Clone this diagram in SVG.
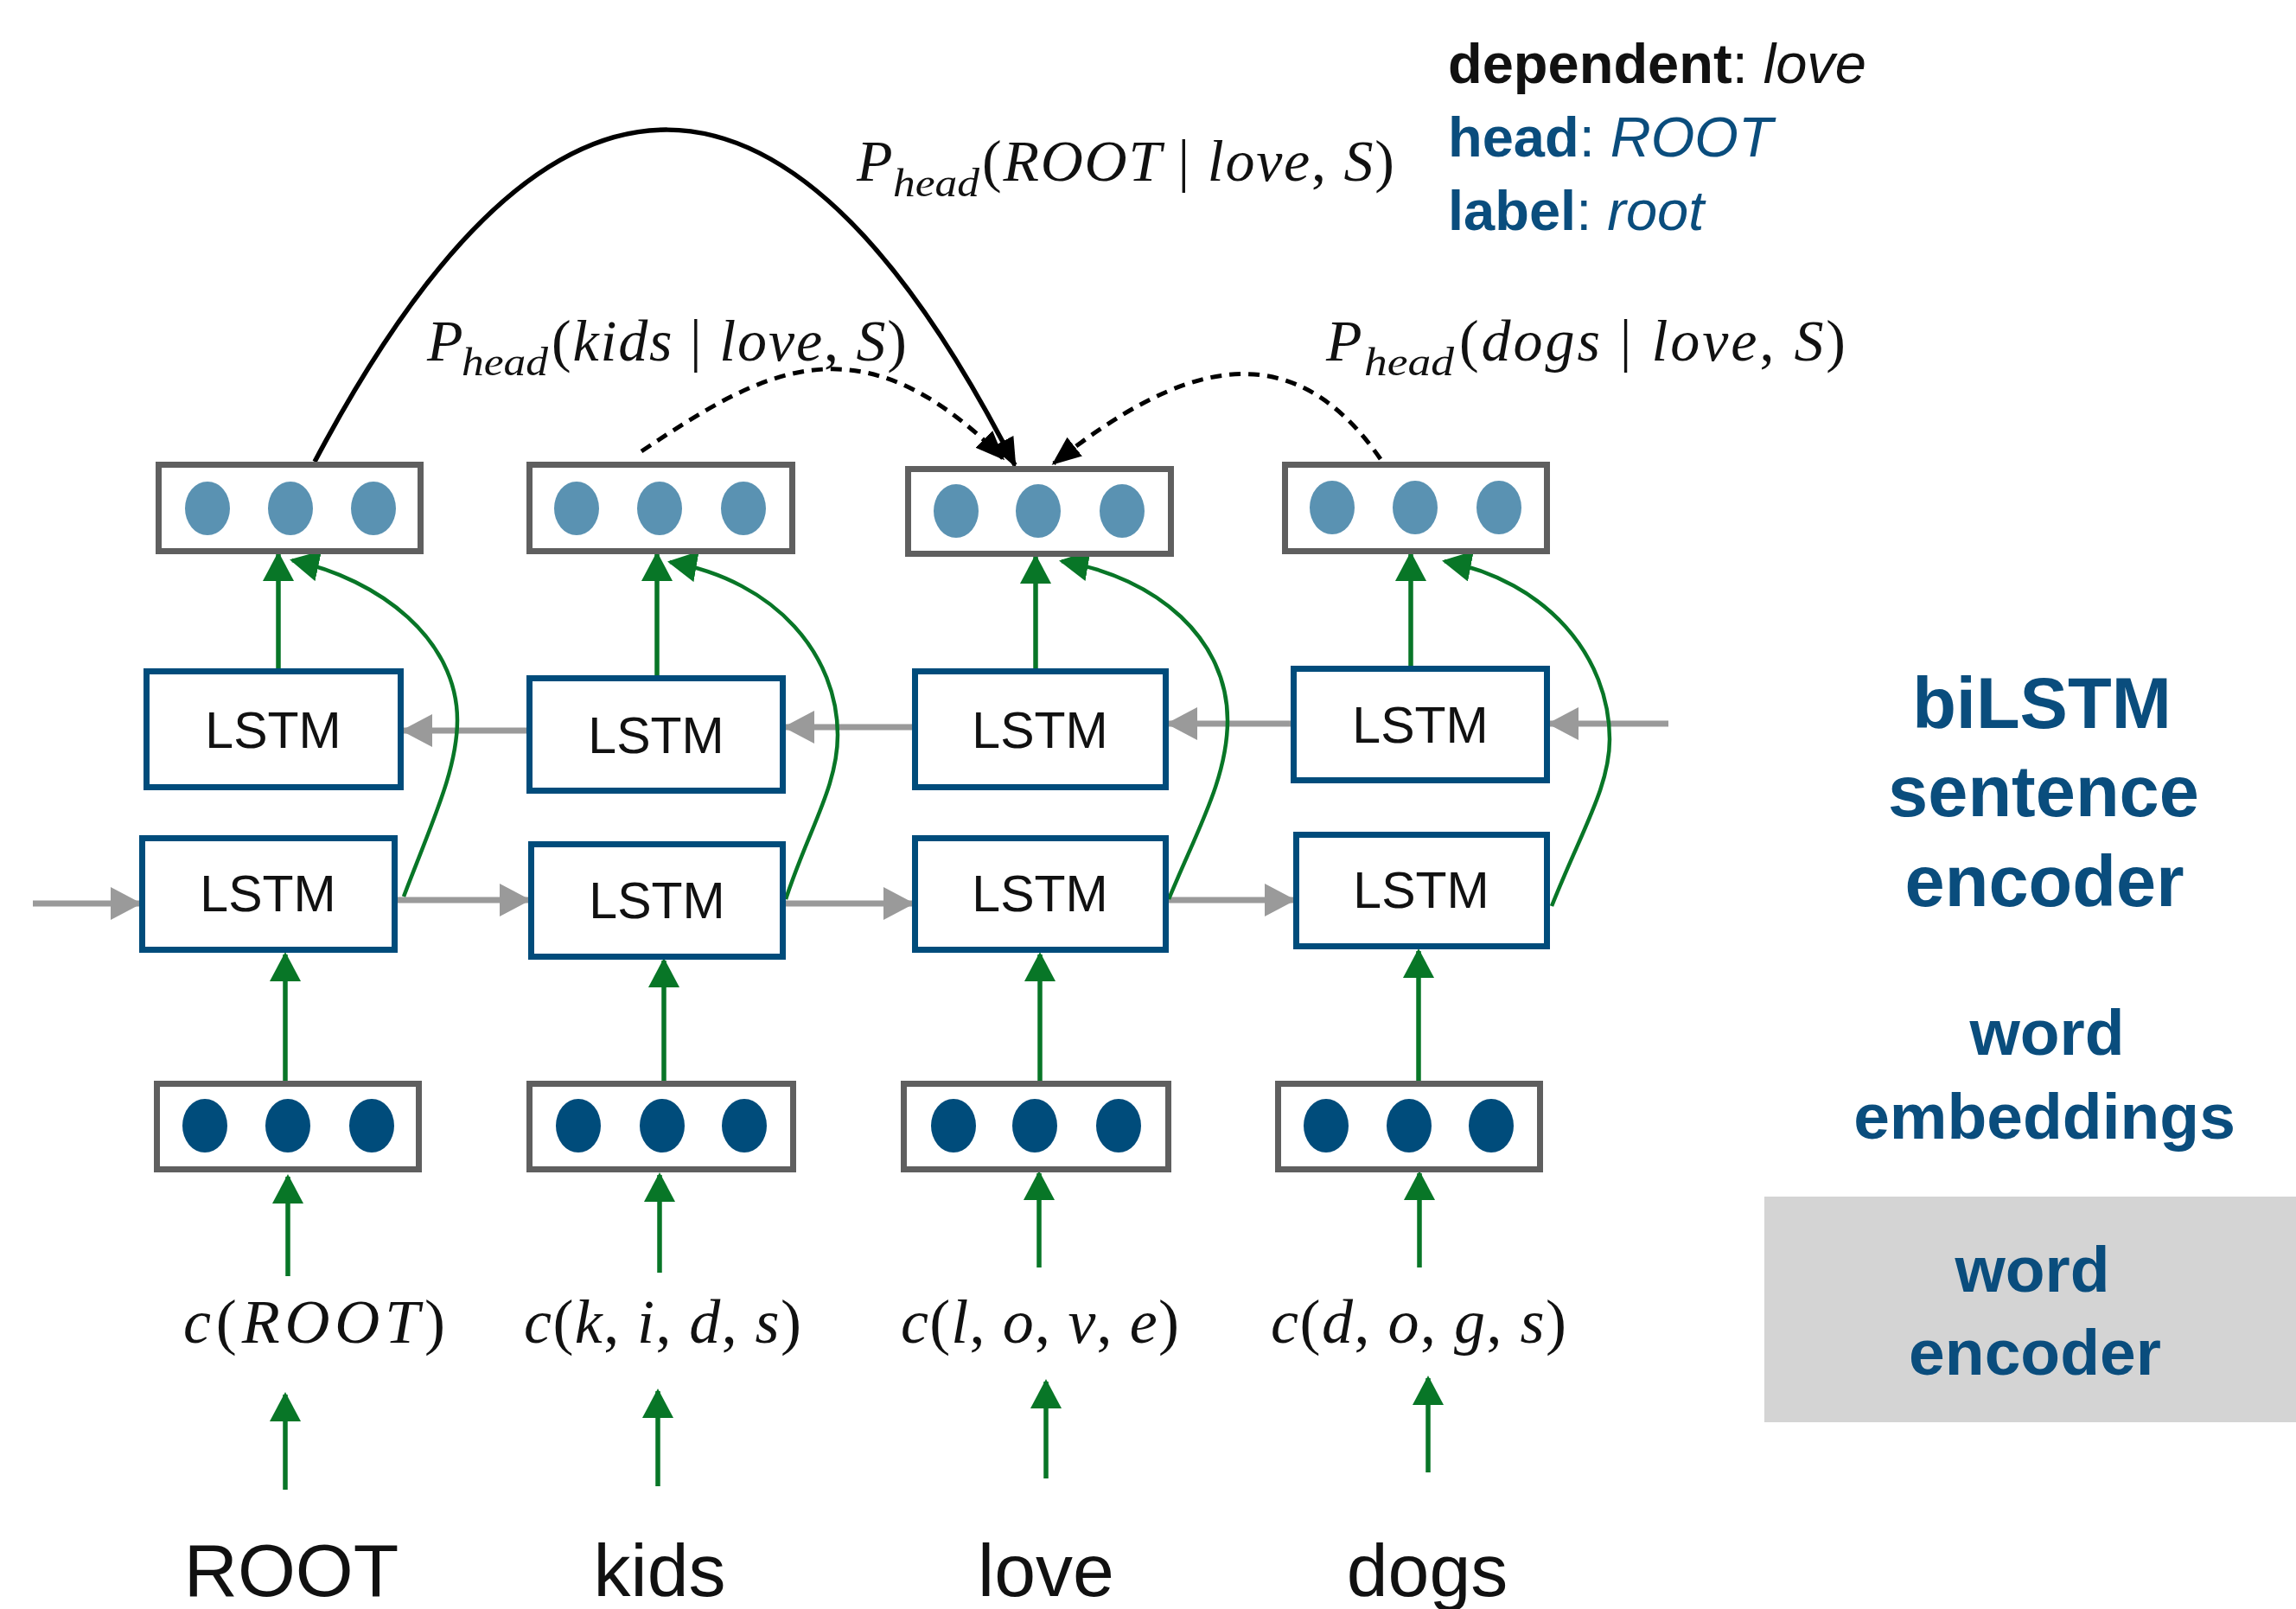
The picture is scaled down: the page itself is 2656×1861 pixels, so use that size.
<svg xmlns="http://www.w3.org/2000/svg" width="2656" height="1861" viewBox="0 0 2656 1861">
  <style>
    .vec { fill: #ffffff; stroke: #5f5f5f; stroke-width: 7; }
    .cell { fill: #ffffff; stroke: #004c7b; stroke-width: 7; }
    .dot-hi { fill: #5a92b2; }
    .dot-lo { fill: #004c7b; }
    .lstm { font-family: "Liberation Sans", Arial, Helvetica, sans-serif; font-size: 59px; text-anchor: middle; fill: #111111; }
    .math { font-family: "Liberation Serif", "Times New Roman", serif; font-style: italic; font-size: 68px; fill: #111111; }
    .sub { font-size: 46px; }
    .cf { font-size: 72px; }
    .up { font-style: normal; }
    .word { font-family: "Liberation Sans", Arial, Helvetica, sans-serif; font-size: 86px; text-anchor: middle; fill: #111111; }
    .side { font-family: "Liberation Sans", Arial, Helvetica, sans-serif; font-weight: bold; text-anchor: middle; fill: #0a4d7d; }
    .info { font-family: "Liberation Sans", Arial, Helvetica, sans-serif; font-size: 65px; }
    .b { font-weight: bold; }
    .it { font-style: italic; }
    .green { fill: none; stroke: #087627; stroke-width: 5.5; marker-end: url(#ah-green); }
    .green-c { fill: none; stroke: #087627; stroke-width: 4.5; marker-end: url(#ah-green); }
    .gray { fill: none; stroke: #9a9a9a; stroke-width: 7; marker-end: url(#ah-gray); }
    .arc { fill: none; stroke: #000000; stroke-width: 5.5; marker-end: url(#ah-black); }
    .arc-d { fill: none; stroke: #000000; stroke-width: 5; stroke-dasharray: 13 9; marker-end: url(#ah-black); }
  </style>
  <defs>
    <marker id="ah-black" markerUnits="userSpaceOnUse" viewBox="0 0 34 28" markerWidth="34" markerHeight="28" refX="31" refY="14" orient="auto">
      <path d="M0,0 L34,14 L0,28 z" fill="#000000"/>
    </marker>
    <marker id="ah-green" markerUnits="userSpaceOnUse" viewBox="0 0 34 36" markerWidth="34" markerHeight="36" refX="31" refY="18" orient="auto">
      <path d="M0,0 L34,18 L0,36 z" fill="#087627"/>
    </marker>
    <marker id="ah-gray" markerUnits="userSpaceOnUse" viewBox="0 0 36 38" markerWidth="36" markerHeight="38" refX="33" refY="19" orient="auto">
      <path d="M0,0 L36,19 L0,38 z" fill="#9a9a9a"/>
    </marker>
  </defs>

  <rect width="2656" height="1861" fill="#ffffff"/>

  <!-- connectors -->
  <g id="connectors">
    <!-- forward LSTM chain -->
    <line class="gray" x1="38" y1="1045" x2="161" y2="1045"/>
    <line class="gray" x1="460" y1="1041" x2="611" y2="1041"/>
    <line class="gray" x1="909" y1="1045" x2="1055" y2="1045"/>
    <line class="gray" x1="1352" y1="1041" x2="1496" y2="1041"/>
    <!-- backward LSTM chain -->
    <line class="gray" x1="1930" y1="837" x2="1793" y2="837"/>
    <line class="gray" x1="1493" y1="837" x2="1352" y2="837"/>
    <line class="gray" x1="1055" y1="841" x2="909" y2="841"/>
    <line class="gray" x1="609" y1="845" x2="467" y2="845"/>

    <!-- words to character encodings -->
    <line class="green" x1="330" y1="1723" x2="330" y2="1613"/>
    <line class="green" x1="761" y1="1719" x2="761" y2="1609"/>
    <line class="green" x1="1210" y1="1710" x2="1210" y2="1598"/>
    <line class="green" x1="1652" y1="1703" x2="1652" y2="1594"/>
    <!-- character encodings to embeddings -->
    <line class="green" x1="333" y1="1476" x2="333" y2="1361"/>
    <line class="green" x1="763" y1="1472" x2="763" y2="1359"/>
    <line class="green" x1="1202" y1="1466" x2="1202" y2="1357"/>
    <line class="green" x1="1642" y1="1466" x2="1642" y2="1357"/>
    <!-- embeddings to forward LSTMs -->
    <line class="green" x1="330" y1="1250" x2="330" y2="1104"/>
    <line class="green" x1="768" y1="1250" x2="768" y2="1111"/>
    <line class="green" x1="1203" y1="1250" x2="1203" y2="1104"/>
    <line class="green" x1="1641" y1="1250" x2="1641" y2="1100"/>
    <!-- backward LSTMs to outputs -->
    <line class="green" x1="322" y1="773" x2="322" y2="641"/>
    <line class="green" x1="760" y1="781" x2="760" y2="641"/>
    <line class="green" x1="1198" y1="773" x2="1198" y2="644"/>
    <line class="green" x1="1632" y1="770" x2="1632" y2="641"/>
    <!-- forward LSTMs to outputs -->
    <path class="green-c" d="M467,1037 C500,950 529,890 529,833 C529,740 440,670 338,648"/>
    <path class="green-c" d="M909,1040 C935,960 969,910 969,850 C969,760 900,672 775,650"/>
    <path class="green-c" d="M1352,1040 C1385,960 1420,900 1420,833 C1420,740 1340,668 1228,649"/>
    <path class="green-c" d="M1795,1048 C1830,960 1862,910 1862,855 C1862,760 1790,672 1671,649"/>

    <!-- head arcs -->
    <path class="arc" d="M364,534 C636,20 911,23 1174,538"/>
    <path class="arc-d" d="M742,522 C880,430 993,361 1160,530"/>
    <path class="arc-d" d="M1597,531 C1491,378 1362,422 1219,536"/>
  </g>

  <!-- output vectors -->
  <g id="out-root">
    <rect class="vec" x="183.5" y="537.5" width="303" height="100"/>
    <ellipse class="dot-hi" cx="240" cy="588" rx="26" ry="31"/>
    <ellipse class="dot-hi" cx="336" cy="588" rx="26" ry="31"/>
    <ellipse class="dot-hi" cx="432" cy="588" rx="26" ry="31"/>
  </g>
  <g id="out-kids">
    <rect class="vec" x="612.5" y="537.5" width="304" height="100"/>
    <ellipse class="dot-hi" cx="667" cy="588" rx="26" ry="31"/>
    <ellipse class="dot-hi" cx="763" cy="588" rx="26" ry="31"/>
    <ellipse class="dot-hi" cx="860" cy="588" rx="26" ry="31"/>
  </g>
  <g id="out-love">
    <rect class="vec" x="1050.5" y="542.5" width="304" height="98"/>
    <ellipse class="dot-hi" cx="1106" cy="591" rx="26" ry="31"/>
    <ellipse class="dot-hi" cx="1201" cy="591" rx="26" ry="31"/>
    <ellipse class="dot-hi" cx="1298" cy="591" rx="26" ry="31"/>
  </g>
  <g id="out-dogs">
    <rect class="vec" x="1486.5" y="537.5" width="303" height="100"/>
    <ellipse class="dot-hi" cx="1541" cy="587" rx="26" ry="31"/>
    <ellipse class="dot-hi" cx="1637" cy="587" rx="26" ry="31"/>
    <ellipse class="dot-hi" cx="1734" cy="587" rx="26" ry="31"/>
  </g>

  <!-- backward LSTM cells -->
  <g id="lstm-bwd-1"><rect class="cell" x="169.5" y="776.5" width="294" height="134"/><text class="lstm" x="316" y="865">LSTM</text></g>
  <g id="lstm-bwd-2"><rect class="cell" x="612.5" y="784.5" width="293" height="130"/><text class="lstm" x="759" y="871">LSTM</text></g>
  <g id="lstm-bwd-3"><rect class="cell" x="1058.5" y="776.5" width="290" height="134"/><text class="lstm" x="1203" y="865">LSTM</text></g>
  <g id="lstm-bwd-4"><rect class="cell" x="1496.5" y="773.5" width="293" height="129"/><text class="lstm" x="1643" y="859">LSTM</text></g>

  <!-- forward LSTM cells -->
  <g id="lstm-fwd-1"><rect class="cell" x="164.5" y="969.5" width="292" height="129"/><text class="lstm" x="310" y="1054">LSTM</text></g>
  <g id="lstm-fwd-2"><rect class="cell" x="614.5" y="976.5" width="291" height="130"/><text class="lstm" x="760" y="1062">LSTM</text></g>
  <g id="lstm-fwd-3"><rect class="cell" x="1058.5" y="969.5" width="290" height="129"/><text class="lstm" x="1203" y="1054">LSTM</text></g>
  <g id="lstm-fwd-4"><rect class="cell" x="1499.5" y="965.5" width="290" height="129"/><text class="lstm" x="1644" y="1050">LSTM</text></g>

  <!-- word embeddings -->
  <g id="emb-root">
    <rect class="vec" x="181.5" y="1253.5" width="303" height="99"/>
    <ellipse class="dot-lo" cx="237" cy="1302" rx="26" ry="31"/>
    <ellipse class="dot-lo" cx="333" cy="1302" rx="26" ry="31"/>
    <ellipse class="dot-lo" cx="430" cy="1302" rx="26" ry="31"/>
  </g>
  <g id="emb-kids">
    <rect class="vec" x="612.5" y="1253.5" width="305" height="99"/>
    <ellipse class="dot-lo" cx="669" cy="1302" rx="26" ry="31"/>
    <ellipse class="dot-lo" cx="766" cy="1302" rx="26" ry="31"/>
    <ellipse class="dot-lo" cx="861" cy="1302" rx="26" ry="31"/>
  </g>
  <g id="emb-love">
    <rect class="vec" x="1045.5" y="1253.5" width="306" height="99"/>
    <ellipse class="dot-lo" cx="1103" cy="1302" rx="26" ry="31"/>
    <ellipse class="dot-lo" cx="1197" cy="1302" rx="26" ry="31"/>
    <ellipse class="dot-lo" cx="1294" cy="1302" rx="26" ry="31"/>
  </g>
  <g id="emb-dogs">
    <rect class="vec" x="1478.5" y="1253.5" width="303" height="99"/>
    <ellipse class="dot-lo" cx="1534" cy="1302" rx="26" ry="31"/>
    <ellipse class="dot-lo" cx="1630" cy="1302" rx="26" ry="31"/>
    <ellipse class="dot-lo" cx="1725" cy="1302" rx="26" ry="31"/>
  </g>

  <!-- character-level encodings -->
  <g id="char-root"><text class="math cf" x="212" y="1553" textLength="303" lengthAdjust="spacing">c<tspan class="up">(</tspan>ROOT<tspan class="up">)</tspan></text></g>
  <g id="char-kids"><text class="math cf" x="606" y="1553" textLength="321" lengthAdjust="spacing">c<tspan class="up">(</tspan>k<tspan class="up">,</tspan> i<tspan class="up">,</tspan> d<tspan class="up">,</tspan> s<tspan class="up">)</tspan></text></g>
  <g id="char-love"><text class="math cf" x="1042" y="1553" textLength="322" lengthAdjust="spacing">c<tspan class="up">(</tspan>l<tspan class="up">,</tspan> o<tspan class="up">,</tspan> v<tspan class="up">,</tspan> e<tspan class="up">)</tspan></text></g>
  <g id="char-dogs"><text class="math cf" x="1470" y="1553" textLength="342" lengthAdjust="spacing">c<tspan class="up">(</tspan>d<tspan class="up">,</tspan> o<tspan class="up">,</tspan> g<tspan class="up">,</tspan> s<tspan class="up">)</tspan></text></g>

  <!-- input words -->
  <g id="word-root"><text class="word" x="337" y="1846">ROOT</text></g>
  <g id="word-kids"><text class="word" x="763" y="1846">kids</text></g>
  <g id="word-love"><text class="word" x="1210" y="1846">love</text></g>
  <g id="word-dogs"><text class="word" x="1651" y="1846">dogs</text></g>

  <!-- head probabilities -->
  <g id="p-root">
    <text class="math" x="991" y="209">P</text>
    <text class="math sub" x="1033" y="227" textLength="100" lengthAdjust="spacingAndGlyphs">head</text>
    <text class="math" x="1136" y="209" textLength="477" lengthAdjust="spacing"><tspan class="up">(</tspan>ROOT <tspan class="up">|</tspan> love<tspan class="up">,</tspan> S<tspan class="up">)</tspan></text>
  </g>
  <g id="p-kids">
    <text class="math" x="494" y="417">P</text>
    <text class="math sub" x="534" y="434" textLength="100" lengthAdjust="spacingAndGlyphs">head</text>
    <text class="math" x="638" y="417" textLength="411" lengthAdjust="spacing"><tspan class="up">(</tspan>kids <tspan class="up">|</tspan> love<tspan class="up">,</tspan> S<tspan class="up">)</tspan></text>
  </g>
  <g id="p-dogs">
    <text class="math" x="1534" y="417">P</text>
    <text class="math sub" x="1578" y="434" textLength="104" lengthAdjust="spacingAndGlyphs">head</text>
    <text class="math" x="1688" y="417" textLength="447" lengthAdjust="spacing"><tspan class="up">(</tspan>dogs <tspan class="up">|</tspan> love<tspan class="up">,</tspan> S<tspan class="up">)</tspan></text>
  </g>

  <!-- prediction legend -->
  <g id="legend">
    <text class="info" x="1675" y="96" fill="#111111"><tspan class="b">dependent</tspan>: <tspan class="it">love</tspan></text>
    <text class="info" x="1675" y="181" fill="#0a4d7d"><tspan class="b">head</tspan>: <tspan class="it">ROOT</tspan></text>
    <text class="info" x="1675" y="266" fill="#0a4d7d"><tspan class="b">label</tspan>: <tspan class="it">root</tspan></text>
  </g>

  <!-- layer labels -->
  <g id="label-bilstm">
    <text class="side" x="2362" y="842" font-size="83">biLSTM</text>
    <text class="side" x="2364" y="944" font-size="83">sentence</text>
    <text class="side" x="2365" y="1048" font-size="83">encoder</text>
  </g>
  <g id="label-embeddings">
    <text class="side" x="2368" y="1220" font-size="75">word</text>
    <text class="side" x="2365" y="1317" font-size="75">embeddings</text>
  </g>
  <g id="label-word-encoder">
    <rect x="2041" y="1384" width="615" height="261" fill="#d4d4d4"/>
    <text class="side" x="2351" y="1494" font-size="75">word</text>
    <text class="side" x="2354" y="1590" font-size="75">encoder</text>
  </g>
</svg>
